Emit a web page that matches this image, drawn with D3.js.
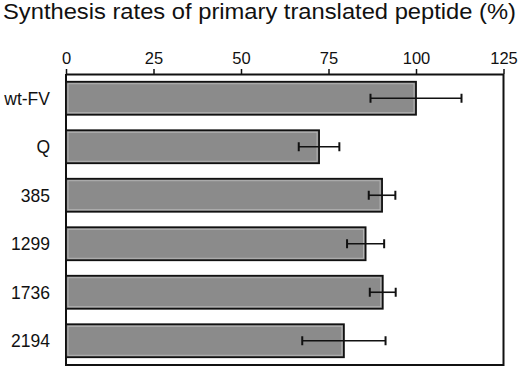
<!DOCTYPE html>
<html><head><meta charset="utf-8">
<script src="https://cdn.jsdelivr.net/npm/d3@7"></script>
<style>body{margin:0;background:#fff}svg{display:block}</style>
</head><body>
<script>
const categories = ["wt-FV", "Q", "385", "1299", "1736", "2194"];
const values = [100, 72.3, 90.3, 85.6, 90.5, 79.4];
const errors = [13, 5.8, 3.8, 5.3, 3.7, 11.9];
const tickValues = [0, 25, 50, 75, 100, 125];
const title = "Synthesis rates of primary translated peptide (%)";

(function () {
const W = 520, H = 367;
const FONT = "Liberation Sans, Arial, sans-serif";
const svg = d3.select("body").append("svg").attr("width", W).attr("height", H);

const mLeft = 66, mRight = 503.5, mTop = 74, mBottom = 365;
const x = d3.scaleLinear().domain([0, 125]).range([mLeft, mRight]);
const y = d3.scaleBand().domain(categories).range([mTop, mBottom]).paddingInner(0.32).paddingOuter(0.16);

svg.append("text").attr("x", 3).attr("y", 19)
  .attr("font-family", FONT).attr("font-size", 22)
  .attr("textLength", 513).attr("lengthAdjust", "spacingAndGlyphs")
  .attr("fill", "#111").text(title);

svg.append("path")
  .attr("d", `M${mLeft},${mTop}V${mBottom}H${mRight}V${mTop}`)
  .attr("fill", "none").attr("stroke", "#111").attr("stroke-width", 2);

const ax = svg.append("g").attr("transform", `translate(0,${mTop})`)
  .call(d3.axisTop(x).tickValues(tickValues).tickSize(5).tickSizeOuter(0).tickPadding(5));
ax.select(".domain").attr("stroke", "#111").attr("stroke-width", 2);
ax.selectAll(".tick line").attr("stroke", "#111").attr("stroke-width", 1.5);
ax.selectAll(".tick text").attr("font-family", FONT)
  .attr("font-size", 16.5).attr("fill", "#111");

const data = categories.map((c, i) => ({c, v: values[i], e: errors[i]}));

svg.append("g").selectAll("rect").data(data).join("rect")
  .attr("x", x(0)).attr("y", d => y(d.c))
  .attr("width", d => x(d.v) - x(0)).attr("height", y.bandwidth())
  .attr("fill", "#8b8b8b").attr("stroke", "#111").attr("stroke-width", 1.8);

svg.append("g").selectAll("rect").data(data).join("rect")
  .attr("x", x(0) + 2).attr("y", d => y(d.c) + 2)
  .attr("width", d => x(d.v) - x(0) - 4).attr("height", y.bandwidth() - 4)
  .attr("fill", "none").attr("stroke", "#bdbdbd").attr("stroke-width", 0.8);

const eb = svg.append("g").attr("stroke", "#111").attr("stroke-width", 1.6);
data.forEach(d => {
  const cy = y(d.c) + y.bandwidth() / 2;
  eb.append("line").attr("x1", x(d.v - d.e)).attr("x2", x(d.v + d.e)).attr("y1", cy).attr("y2", cy);
  [d.v - d.e, d.v + d.e].forEach(v => {
    eb.append("line").attr("x1", x(v)).attr("x2", x(v)).attr("y1", cy - 4.5).attr("y2", cy + 4.5).attr("stroke-width", 2);
  });
});

svg.append("g").selectAll("text").data(categories).join("text")
  .attr("x", 50).attr("y", d => y(d) + y.bandwidth() / 2 + 6.5)
  .attr("text-anchor", "end")
  .attr("font-family", FONT).attr("font-size", 17.5)
  .attr("fill", "#111").text(d => d);
})();
</script>
</body></html>
